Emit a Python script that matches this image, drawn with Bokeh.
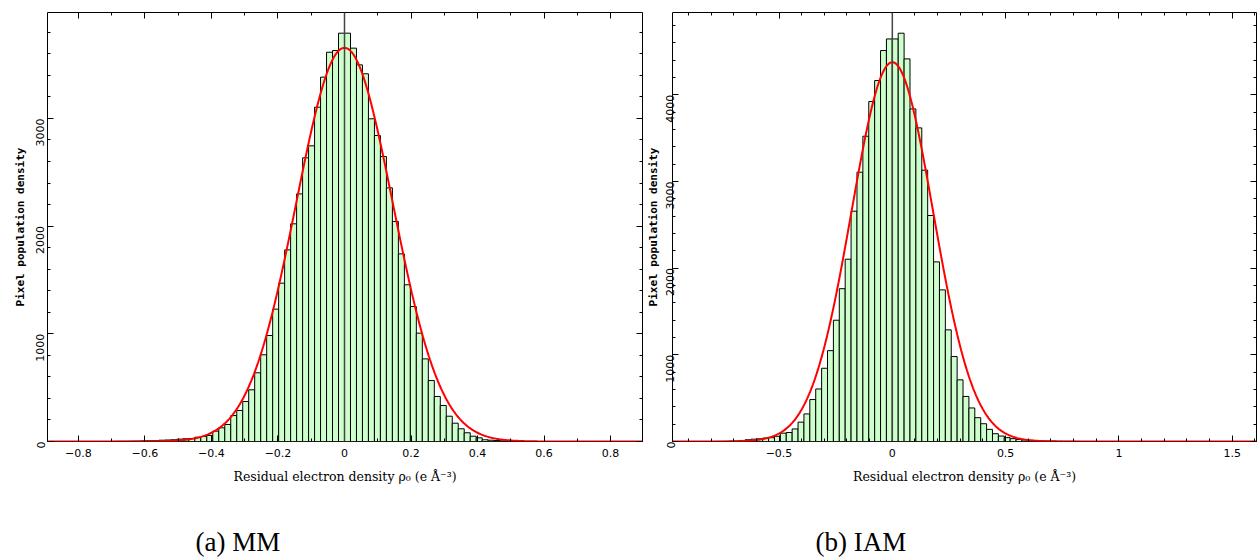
import numpy as np
from bokeh.plotting import figure
from bokeh.layouts import row, column
from bokeh.models import (LinearAxis, FixedTicker, Span, Range1d,
                          CustomJSTickFormatter, ColumnDataSource)
from bokeh.core.properties import value
from bokeh.embed import file_html
from bokeh.resources import INLINE

# ---------------- data: (a) MM ----------------
mm_bin_width = 0.018
mm_first_bin = -39          # index of first bin (bin k spans [k*w, (k+1)*w])
mm_counts = [1, 2, 2, 3, 4, 6, 7, 8, 12, 14,
             16, 22, 25, 28, 40, 46, 56, 96, 127, 158,
             241, 288, 371, 480, 638, 805, 984, 1229, 1470, 1779,
             2021, 2299, 2634, 2745, 3104, 3383, 3614, 3630, 3791,
             3791, 3652, 3497, 3414, 2996, 2841, 2646, 2355, 2043, 1742,
             1455, 1253, 1006, 767, 566, 418, 334, 235, 170, 118,
             81, 49, 34, 16, 12, 9, 6, 4, 3, 2]
mm_fit_amp, mm_fit_mu, mm_fit_sigma = 3655, 0.0, 0.145
mm_xrange = (-0.893, 0.896)
mm_ytop = 3983
mm_xticks = [-0.8, -0.6, -0.4, -0.2, 0, 0.2, 0.4, 0.6, 0.8]
mm_xlabels = ["\u22120.8", "\u22120.6", "\u22120.4", "\u22120.2", "0", "0.2", "0.4", "0.6", "0.8"]
mm_xminor = [-0.8, -0.7, -0.6, -0.5, -0.4, -0.3, -0.2, -0.1, 0, 0.1, 0.2, 0.3, 0.4, 0.5, 0.6, 0.7, 0.8]
mm_yticks = [0, 1000, 2000, 3000]
mm_yminor = [0, 200, 400, 600, 800, 1000, 1200, 1400, 1600, 1800, 2000, 2200, 2400,
             2600, 2800, 3000, 3200, 3400, 3600, 3800]

# ---------------- data: (b) IAM ----------------
iam_bin_width = 0.026
iam_first_bin = -30
iam_counts = [1, 2, 3, 5, 12, 20, 27, 31, 40, 44,
              60, 96, 104, 145, 223, 318, 484, 606, 845, 1048,
              1399, 1763, 2103, 2657, 3107, 3522, 3922, 4164, 4510, 4644,
              4644, 4710, 4414, 3837, 3618, 3130, 2607, 2072, 1749, 1288,
              980, 711, 520, 387, 275, 205, 140, 90, 63, 45,
              33, 24, 18, 13, 10, 7, 5, 4, 3, 2, 2, 1]
iam_fit_amp, iam_fit_mu, iam_fit_sigma = 4375, 0.0, 0.18
iam_xrange = (-0.97, 1.607)
iam_ytop = 4949
iam_xticks = [-0.5, 0, 0.5, 1, 1.5]
iam_xlabels = ["\u22120.5", "0", "0.5", "1", "1.5"]
iam_xminor = [-0.9, -0.8, -0.7, -0.6, -0.5, -0.4, -0.3, -0.2, -0.1, 0, 0.1, 0.2, 0.3, 0.4,
              0.5, 0.6, 0.7, 0.8, 0.9, 1.0, 1.1, 1.2, 1.3, 1.4, 1.5, 1.6]
iam_yticks = [0, 1000, 2000, 3000, 4000]
iam_yminor = [0, 200, 400, 600, 800, 1000, 1200, 1400, 1600, 1800, 2000, 2200, 2400,
              2600, 2800, 3000, 3200, 3400, 3600, 3800, 4000, 4200, 4400, 4600, 4800]

x_title = "Residual electron density \u03c1\u2080 (e \u00c5\u207b\u00b3)"
y_title = "Pixel population density"
captions = ["(a) MM", "(b) IAM"]

TICK_FONT = "DejaVu Sans"
FIG_H = 490
FRAME_TOP = 12
FRAME_BOTTOM = 441
PAGE_W = 1257
CAP_H = 68


def style_axis(ax, ticks, minor, labels=None, show=True):
    ax.ticker = FixedTicker(ticks=ticks, minor_ticks=minor)
    ax.axis_line_color = None
    ax.major_tick_in = 6
    ax.major_tick_out = 0
    ax.minor_tick_in = 3
    ax.minor_tick_out = 0
    ax.major_tick_line_color = "black"
    ax.minor_tick_line_color = "black"
    ax.major_tick_line_width = 1
    ax.minor_tick_line_width = 1
    if show:
        ax.major_label_text_font = TICK_FONT
        ax.major_label_text_font_size = "11px"
        ax.major_label_text_color = "black"
        if labels is not None:
            ax.major_label_overrides = {t: l for t, l in zip(ticks, labels)}
    else:
        ax.formatter = CustomJSTickFormatter(code="return '';")
        ax.major_label_text_font_size = "0px"
        ax.major_label_standoff = 0


def make_panel(counts, first_bin, width_bin, fit, xr, ytop, xticks, xlabels, xminor,
               yticks, yminor, fig_w, border_left, ylab_standoff, ytick_standoff):
    k = np.arange(first_bin, first_bin + len(counts))
    src = ColumnDataSource(dict(left=k * width_bin, right=(k + 1) * width_bin,
                                top=counts))
    p = figure(width=fig_w, height=FIG_H, x_range=Range1d(*xr), y_range=Range1d(0, ytop),
               output_backend="svg", toolbar_location=None,
               min_border_left=border_left, min_border_right=1,
               min_border_top=FRAME_TOP, min_border_bottom=FIG_H - FRAME_BOTTOM)
    p.grid.visible = False
    p.outline_line_color = "black"
    p.outline_line_width = 1
    p.background_fill_color = "white"
    p.border_fill_color = "white"

    p.quad(left="left", right="right", bottom=0, top="top", source=src,
           fill_color="#ccffcc", line_color="black", line_width=1)

    amp, mu, sig = fit
    xs = np.linspace(xr[0], xr[1], 600)
    ys = amp * np.exp(-0.5 * ((xs - mu) / sig) ** 2)
    p.line(xs, ys, line_color="#ff0000", line_width=2)

    p.add_layout(Span(location=0, dimension="height", line_color="#444444",
                      line_width=1.5))

    xa = p.xaxis[0]
    style_axis(xa, xticks, xminor, xlabels)
    xa.major_label_standoff = 7
    xa.axis_label = x_title
    xa.axis_label_text_font = "DejaVu Serif"
    xa.axis_label_text_font_size = "12.5px"
    xa.axis_label_text_font_style = "normal"
    xa.axis_label_text_color = "black"
    xa.axis_label_standoff = 9

    ya = p.yaxis[0]
    style_axis(ya, yticks, yminor, None)
    ya.major_label_orientation = np.pi / 2
    ya.major_label_standoff = ytick_standoff
    ya.axis_label = y_title
    ya.axis_label_text_font = "DejaVu Sans Mono"
    ya.axis_label_text_font_size = "11px"
    ya.axis_label_text_font_style = "bold"
    ya.axis_label_text_color = "black"
    ya.axis_label_standoff = ylab_standoff

    top = LinearAxis()
    style_axis(top, xticks, xminor, show=False)
    p.add_layout(top, "above")
    right = LinearAxis()
    style_axis(right, yticks, yminor, show=False)
    p.add_layout(right, "right")
    return p


p1 = make_panel(mm_counts, mm_first_bin, mm_bin_width,
                (mm_fit_amp, mm_fit_mu, mm_fit_sigma), mm_xrange, mm_ytop,
                mm_xticks, mm_xlabels, mm_xminor, mm_yticks, mm_yminor,
                fig_w=643, border_left=47, ylab_standoff=3, ytick_standoff=7)
p2 = make_panel(iam_counts, iam_first_bin, iam_bin_width,
                (iam_fit_amp, iam_fit_mu, iam_fit_sigma), iam_xrange, iam_ytop,
                iam_xticks, iam_xlabels, iam_xminor, iam_yticks, iam_yminor,
                fig_w=PAGE_W - 643, border_left=29, ylab_standoff=0, ytick_standoff=2)

# caption strip (pixel coordinates: x from left, y = text centre above strip bottom)
cap_src = ColumnDataSource(dict(x=[195, 815], y=[17, 17], text=captions))
pc = figure(width=PAGE_W, height=CAP_H, x_range=Range1d(0, PAGE_W),
            y_range=Range1d(0, CAP_H), output_backend="svg", toolbar_location=None,
            x_axis_location=None, y_axis_location=None,
            min_border=0, min_border_left=0, min_border_right=0,
            min_border_top=0, min_border_bottom=0)
pc.grid.visible = False
pc.outline_line_color = None
pc.text(x="x", y="y", text="text", source=cap_src, text_align="left",
        text_baseline="middle", text_font=value("Liberation Serif"),
        text_font_size="27px", text_color="black")

layout = column(row(p1, p2), pc)
open("out.html", "w").write(file_html(layout, INLINE))
